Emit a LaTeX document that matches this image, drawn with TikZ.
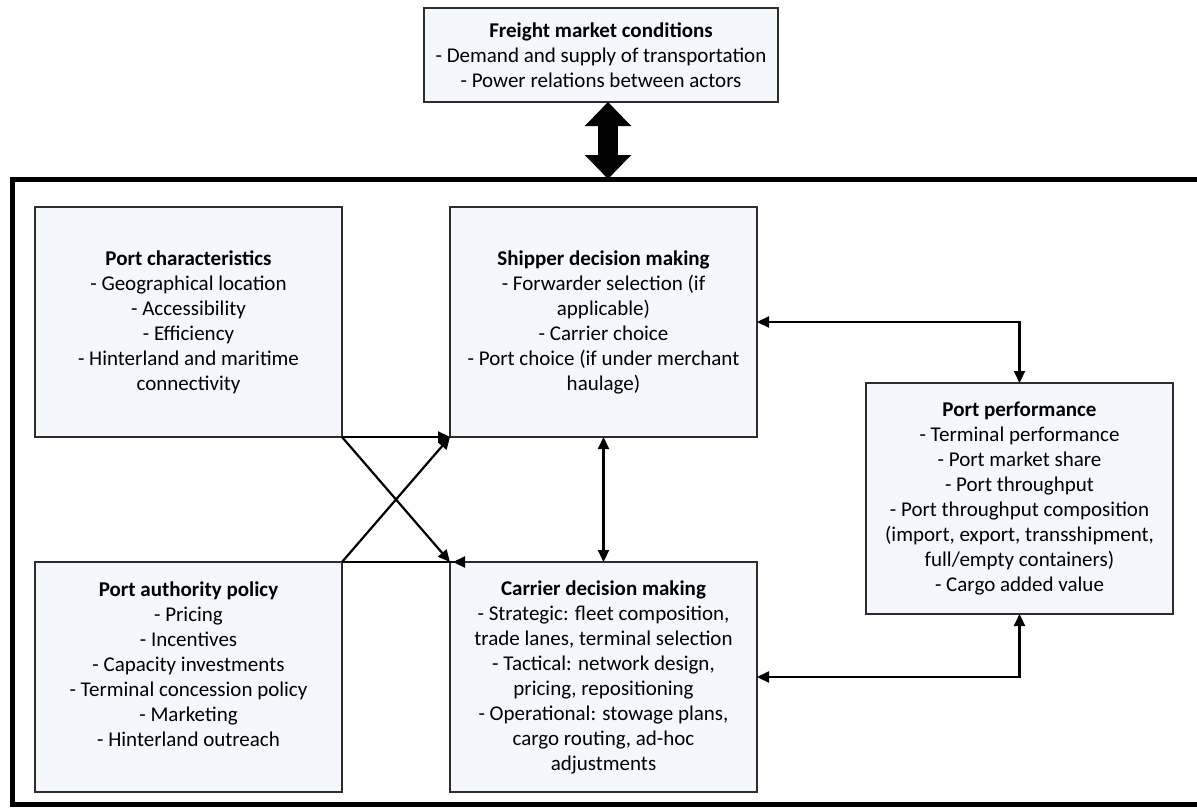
\documentclass[tikz,border=0pt]{standalone}
\usepackage{fontspec}
\setmainfont{Carlito}
\usetikzlibrary{arrows.meta, positioning}
\definecolor{cBoxFill}{RGB}{244,247,251}
\definecolor{cEdge}{RGB}{45,45,45}
\tikzset{
	box/.style    ={rectangle, draw=cEdge, line width=1.6pt, outer sep=0pt, minimum width=307pt, minimum height=230pt, align=center, fill=cBoxFill},
	sig/.style    ={-{Triangle[length=12pt, width=11pt]}, line width=2.2pt},
	sigboth/.style={{Triangle[length=12pt, width=11pt]}-{Triangle[length=12pt, width=11pt]}, line width=2.2pt},
	sigback/.style={-{Triangle[length=12pt, width=11pt, reversed]}, line width=2.2pt},
	fatarrow/.style={{Triangle[length=24pt, width=45pt]}-{Triangle[length=24pt, width=45pt]}, line width=20pt},
}

\begin{document}
\begin{tikzpicture}[x=1pt, y=-1pt, font=\fontsize{21}{25}\selectfont, node distance=108pt]
	\useasboundingbox (0,0) rectangle (1197,808);
	% outer frame (right edge runs off the page)
	\node[rectangle, draw=black, line width=5pt, outer sep=0pt, minimum width=1200pt, minimum height=625pt] (frame) at (612,491.5) {};
	\node[box, minimum width=354pt, minimum height=94pt] (mkt) at (601,55) {\textbf{Freight market conditions}\\ - Demand and supply of transportation\\ - Power relations between actors};
	\node[box] (pchar) at (188.5,322) {\textbf{Port characteristics}\\ - Geographical location\\ - Accessibility\\ - Efficiency\\ - Hinterland and maritime\\ connectivity};
	\node[box, right=of pchar] (ship) {\textbf{Shipper decision making}\\ - Forwarder selection (if\\ applicable)\\ - Carrier choice\\ - Port choice (if under merchant\\ haulage)};
	\node[box, below=125pt of pchar] (pauth) {\textbf{Port authority policy}\\ - Pricing\\ - Incentives\\ - Capacity investments\\ - Terminal concession policy\\ - Marketing\\ - Hinterland outreach\\ \mbox{}};
	\node[box, below=125pt of ship] (carr) {\textbf{Carrier decision making}\\ - Strategic: fleet composition,\\ trade lanes, terminal selection\\ - Tactical: network design,\\ pricing, repositioning\\ - Operational: stowage plans,\\ cargo routing, ad-hoc\\ adjustments};
	\node[box, minimum height=231pt] (perf) at (1019.5,498.5) {\textbf{Port performance}\\ - Terminal performance\\ - Port market share\\ - Port throughput\\ - Port throughput composition\\ (import, export, transshipment,\\ full/empty containers)\\ - Cargo added value};
	\draw[fatarrow] ([xshift=7pt]mkt.south) -- ([xshift=7pt]mkt.south |- frame.north);
	\draw[sig] (pchar.south east) -- (ship.south west);
	\draw[sig] (pchar.south east) -- (carr.north west);
	\draw[sig] (pauth.north east) -- (ship.south west);
	\draw[sigback] (pauth.north east) -- ([xshift=15pt]carr.north west);
	\draw[sigboth] (ship.south) -- (carr.north);
	\draw[sigboth] (ship.east) -| (perf.north);
	\draw[sigboth] (carr.east) -| (perf.south);
\end{tikzpicture}
\end{document}
